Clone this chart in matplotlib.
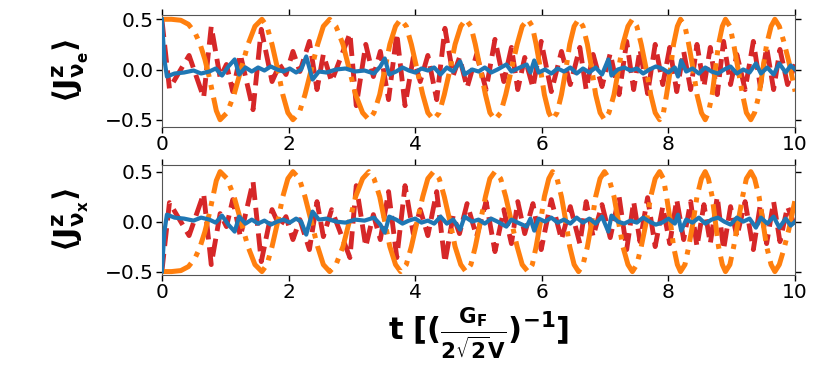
import matplotlib
matplotlib.use("Agg")
import matplotlib.pyplot as plt

plt.rcParams['mathtext.fontset'] = 'dejavusans'
plt.rcParams['mathtext.default'] = 'bf'

# time grids (shared by both panels)
t_orange = [0.00, 0.15, 0.30, 0.42, 0.52, 0.60, 0.68, 0.75, 0.81, 0.86, 0.92,
            1.03, 1.14, 1.25, 1.36, 1.47, 1.58,
            1.66, 1.74, 1.83, 1.91, 1.99, 2.07,
            2.17, 2.26, 2.36, 2.46, 2.55, 2.65,
            2.75, 2.86, 2.96, 3.06, 3.17, 3.27,
            3.35, 3.44, 3.52, 3.60, 3.69, 3.77,
            3.86, 3.94, 4.03, 4.12, 4.20, 4.29,
            4.38, 4.46, 4.55, 4.63, 4.72, 4.80,
            4.88, 4.95, 5.03, 5.11, 5.18, 5.26,
            5.35, 5.43, 5.52, 5.61, 5.69, 5.78,
            5.85, 5.91, 5.98, 6.04, 6.11, 6.17,
            6.24, 6.31, 6.38, 6.44, 6.51, 6.58,
            6.65, 6.72, 6.79, 6.85, 6.92, 6.99,
            7.06, 7.14, 7.21, 7.28, 7.36, 7.43,
            7.50, 7.57, 7.65, 7.72, 7.79, 7.86,
            7.92, 7.97, 8.03, 8.08, 8.14, 8.19,
            8.26, 8.32, 8.39, 8.45, 8.52, 8.58,
            8.63, 8.69, 8.74, 8.79, 8.85, 8.90,
            8.97, 9.03, 9.10, 9.17, 9.23, 9.30,
            9.36, 9.43, 9.49, 9.55, 9.62, 9.68,
            9.75, 9.82, 9.90, 10.00]

orange_e = [0.50, 0.50, 0.49, 0.45, 0.37, 0.26, 0.10, -0.08, -0.26, -0.41, -0.50,
            -0.43, -0.25, 0.00, 0.25, 0.43, 0.50,
            0.43, 0.25, 0.00, -0.25, -0.43, -0.50,
            -0.43, -0.25, 0.00, 0.25, 0.43, 0.50,
            0.43, 0.25, 0.00, -0.25, -0.43, -0.50,
            -0.43, -0.25, 0.00, 0.25, 0.43, 0.50,
            0.43, 0.25, 0.00, -0.25, -0.43, -0.50,
            -0.43, -0.25, 0.00, 0.25, 0.43, 0.50,
            0.43, 0.25, 0.00, -0.25, -0.43, -0.50,
            -0.43, -0.25, 0.00, 0.25, 0.43, 0.50,
            0.43, 0.25, 0.00, -0.25, -0.43, -0.50,
            -0.43, -0.25, 0.00, 0.25, 0.43, 0.50,
            0.43, 0.25, 0.00, -0.25, -0.43, -0.50,
            -0.43, -0.25, 0.00, 0.25, 0.43, 0.50,
            0.43, 0.25, 0.00, -0.25, -0.43, -0.50,
            -0.43, -0.25, 0.00, 0.25, 0.43, 0.50,
            0.43, 0.25, 0.00, -0.25, -0.43, -0.50,
            -0.43, -0.25, 0.00, 0.25, 0.43, 0.50,
            0.43, 0.25, 0.00, -0.25, -0.43, -0.50,
            -0.43, -0.25, 0.00, 0.25, 0.43, 0.50,
            0.43, 0.28, 0.08, -0.22]

orange_x = [-0.50, -0.50, -0.49, -0.45, -0.37, -0.26, -0.10, 0.08, 0.26, 0.41, 0.50,
            0.43, 0.25, 0.00, -0.25, -0.43, -0.50,
            -0.43, -0.25, 0.00, 0.25, 0.43, 0.50,
            0.43, 0.25, 0.00, -0.25, -0.43, -0.50,
            -0.43, -0.25, 0.00, 0.25, 0.43, 0.50,
            0.43, 0.25, 0.00, -0.25, -0.43, -0.50,
            -0.43, -0.25, 0.00, 0.25, 0.43, 0.50,
            0.43, 0.25, 0.00, -0.25, -0.43, -0.50,
            -0.43, -0.25, 0.00, 0.25, 0.43, 0.50,
            0.43, 0.25, 0.00, -0.25, -0.43, -0.50,
            -0.43, -0.25, 0.00, 0.25, 0.43, 0.50,
            0.43, 0.25, 0.00, -0.25, -0.43, -0.50,
            -0.43, -0.25, 0.00, 0.25, 0.43, 0.50,
            0.43, 0.25, 0.00, -0.25, -0.43, -0.50,
            -0.43, -0.25, 0.00, 0.25, 0.43, 0.50,
            0.43, 0.25, 0.00, -0.25, -0.43, -0.50,
            -0.43, -0.25, 0.00, 0.25, 0.43, 0.50,
            0.43, 0.25, 0.00, -0.25, -0.43, -0.50,
            -0.43, -0.25, 0.00, 0.25, 0.43, 0.50,
            0.43, 0.25, 0.00, -0.25, -0.43, -0.50,
            -0.43, -0.28, -0.08, 0.22]

t_red = [0.00, 0.12, 0.43, 0.66, 0.78, 0.92, 1.02, 1.12, 1.24, 1.44,
         1.57, 1.74, 1.86, 1.96, 2.07, 2.18, 2.33, 2.45, 2.55, 2.68,
         2.97, 3.07, 3.22, 3.34, 3.45, 3.58, 3.71, 3.84, 3.97, 4.08,
         4.20, 4.34, 4.47, 4.60, 4.70, 4.82, 4.97, 5.12, 5.26, 5.40,
         5.52, 5.62, 5.73, 5.86, 5.99, 6.15, 6.31, 6.45, 6.60, 6.70,
         6.81, 6.95, 7.08, 7.22, 7.34, 7.45, 7.55, 7.67, 7.79, 7.91,
         8.02, 8.13, 8.24, 8.35, 8.45, 8.56, 8.66, 8.77, 8.87, 8.98,
         9.08, 9.21, 9.34, 9.45, 9.55, 9.66, 9.76, 9.88, 10.00]

red_e = [0.50, -0.19, 0.14, -0.28, 0.43, -0.08, 0.05, -0.22, 0.15, -0.40,
         0.40, -0.12, 0.05, -0.05, 0.18, -0.02, 0.28, -0.20, 0.15, -0.12,
         0.36, -0.36, 0.25, -0.07, 0.18, -0.30, 0.36, -0.36, 0.12, -0.12,
         0.14, -0.30, 0.41, -0.06, 0.12, -0.18, 0.15, -0.20, 0.30, -0.12,
         0.22, -0.20, 0.12, -0.18, 0.28, -0.22, 0.18, -0.15, 0.22, -0.20,
         0.15, -0.17, 0.16, -0.25, 0.28, -0.20, 0.20, -0.24, 0.25, -0.15,
         0.22, -0.22, 0.18, -0.20, 0.25, -0.17, 0.22, -0.25, 0.28, -0.15,
         0.15, -0.20, 0.28, -0.17, 0.22, -0.20, 0.20, -0.15, 0.05]

red_x = [-0.50, 0.19, -0.14, 0.28, -0.43, 0.08, -0.05, 0.22, -0.15, 0.40,
         -0.40, 0.12, -0.05, 0.05, -0.18, 0.02, -0.28, 0.20, -0.15, 0.12,
         -0.36, 0.36, -0.25, 0.07, -0.18, 0.30, -0.36, 0.36, -0.12, 0.12,
         -0.14, 0.30, -0.41, 0.06, -0.12, 0.18, -0.15, 0.20, -0.30, 0.12,
         -0.22, 0.20, -0.12, 0.18, -0.28, 0.22, -0.18, 0.15, -0.22, 0.20,
         -0.15, 0.17, -0.16, 0.25, -0.28, 0.20, -0.20, 0.24, -0.25, 0.15,
         -0.22, 0.22, -0.18, 0.20, -0.25, 0.17, -0.22, 0.25, -0.28, 0.15,
         -0.15, 0.20, -0.28, 0.17, -0.22, 0.20, -0.20, 0.15, -0.05]

t_blue = [0.00, 0.04, 0.08, 0.20, 0.35, 0.50, 0.62, 0.75, 0.85, 0.95,
          1.05, 1.15, 1.22, 1.32, 1.42, 1.52, 1.62, 1.72, 1.82, 1.92,
          2.02, 2.12, 2.20, 2.28, 2.38, 2.48, 2.60, 2.75, 2.90, 3.05,
          3.20, 3.35, 3.45, 3.52, 3.59, 3.70, 3.80, 3.90, 4.00, 4.10,
          4.20, 4.30, 4.40, 4.50, 4.60, 4.71, 4.78, 4.90, 5.00, 5.10,
          5.20, 5.30, 5.44, 5.52, 5.62, 5.76, 5.82, 5.88, 5.95, 6.05,
          6.15, 6.25, 6.35, 6.45, 6.55, 6.65, 6.75, 6.85, 6.95, 7.05,
          7.10, 7.20, 7.30, 7.40, 7.50, 7.60, 7.70, 7.80, 7.90, 8.00,
          8.10, 8.15, 8.20, 8.28, 8.38, 8.48, 8.58, 8.68, 8.78, 8.88,
          8.98, 9.08, 9.18, 9.28, 9.38, 9.46, 9.56, 9.66, 9.75, 9.85,
          9.93, 10.00]

blue_e = [0.50, 0.10, -0.07, -0.04, -0.03, -0.01, -0.04, -0.02, 0.01, -0.06,
          0.03, 0.10, -0.05, 0.02, -0.02, 0.02, -0.01, 0.03, 0.00, -0.02,
          0.01, -0.03, 0.00, 0.13, -0.10, -0.02, -0.03, 0.00, 0.01, -0.02,
          -0.01, -0.04, 0.03, 0.11, -0.05, -0.02, 0.02, -0.01, -0.03, 0.01,
          -0.01, 0.02, -0.05, 0.02, -0.02, 0.08, -0.05, 0.00, -0.02, 0.02,
          -0.03, 0.00, 0.05, -0.02, 0.01, 0.05, -0.03, 0.09, -0.03, 0.00,
          -0.04, 0.01, -0.02, 0.02, -0.04, 0.01, -0.03, 0.02, -0.05, 0.10,
          -0.06, 0.00, 0.02, -0.01, 0.01, -0.04, 0.00, 0.03, 0.01, -0.03,
          0.02, -0.07, 0.09, -0.02, 0.01, -0.04, 0.02, -0.02, -0.04, 0.00,
          0.03, -0.04, 0.00, -0.03, 0.06, -0.04, 0.02, -0.05, 0.06, -0.03,
          0.04, 0.00]

blue_x = [-0.50, -0.10, 0.07, 0.04, 0.03, 0.01, 0.04, 0.02, -0.01, 0.06,
          -0.03, -0.10, 0.05, -0.02, 0.02, -0.02, 0.01, -0.03, 0.00, 0.02,
          -0.01, 0.03, 0.00, -0.13, 0.10, 0.02, 0.03, 0.00, -0.01, 0.02,
          0.01, 0.04, -0.03, -0.11, 0.05, 0.02, -0.02, 0.01, 0.03, -0.01,
          0.01, -0.02, 0.05, -0.02, 0.02, -0.08, 0.05, 0.00, 0.02, -0.02,
          0.03, 0.00, -0.05, 0.02, -0.01, -0.05, 0.03, -0.09, 0.03, 0.00,
          0.04, -0.01, 0.02, -0.02, 0.04, -0.01, 0.03, -0.02, 0.05, -0.10,
          0.06, 0.00, -0.02, 0.01, -0.01, 0.04, 0.00, -0.03, -0.01, 0.03,
          -0.02, 0.07, -0.09, 0.02, -0.01, 0.04, -0.02, 0.02, 0.04, 0.00,
          -0.03, 0.04, 0.00, 0.03, -0.06, 0.04, -0.02, 0.05, -0.06, 0.03,
          -0.04, 0.00]

ylabels = [r'$\langle J^z_{\nu_e} \rangle$', r'$\langle J^z_{\nu_x} \rangle$']
xlabel = r'$t\ [(\frac{G_F}{2\sqrt{2}V})^{-1}]$'

fig = plt.figure(figsize=(8.3, 3.74), dpi=100)
ax_top = fig.add_axes([0.195, 0.660, 0.763, 0.300])
ax_bot = fig.add_axes([0.195, 0.265, 0.763, 0.294])

panels = [(ax_top, blue_e, red_e, orange_e, (-0.574, 0.543)),
          (ax_bot, blue_x, red_x, orange_x, (-0.533, 0.567))]

for i, (ax, b, r, o, ylim) in enumerate(panels):
    ax.plot(t_red, r, color='tab:red', ls='--', lw=3.5, zorder=2)
    ax.plot(t_orange, o, color='tab:orange', ls='-.', lw=3.6, zorder=3)
    ax.plot(t_blue, b, color='tab:blue', ls='-', lw=3, zorder=4)
    ax.set_xlim(0, 10)
    ax.set_ylim(*ylim)
    ax.set_xticks([0, 2, 4, 6, 8, 10])
    ax.set_yticks([-0.5, 0.0, 0.5])
    ax.tick_params(direction='out', top=True, right=True, labelsize=14.5,
                   length=4, width=1, colors='black', pad=2)
    for s in ax.spines.values():
        s.set_color('#555555')
    ax.set_ylabel(ylabels[i], fontsize=22, labelpad=10)

ax_bot.set_xlabel(xlabel, fontsize=22, labelpad=2)

fig.savefig('out.png', dpi=100)
